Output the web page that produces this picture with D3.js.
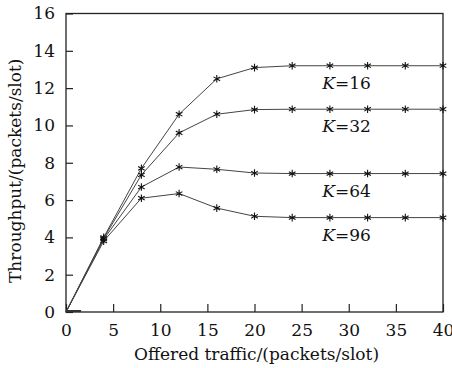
<!DOCTYPE html>
<html>
<head>
<meta charset="utf-8">
<script src="https://cdn.jsdelivr.net/npm/d3@7"></script>
<style>
  body { margin: 0; background: #fff; }
  svg text { font-family: "DejaVu Serif", serif; fill: #111; }
</style>
</head>
<body>
<svg id="chart" width="452" height="368"></svg>
<script>
// offered traffic (packets/slot)
var traffic = [0, 4, 8, 12, 16, 20, 24, 28, 32, 36, 40];
var seriesNames = ["16", "32", "64", "96"];
var k16 = [0, 4.0, 7.7, 10.6, 12.5, 13.1, 13.2, 13.2, 13.2, 13.2, 13.2];
var k32 = [0, 3.95, 7.35, 9.6, 10.6, 10.85, 10.87, 10.87, 10.87, 10.87, 10.87];
var k64 = [0, 3.9, 6.7, 7.77, 7.65, 7.45, 7.42, 7.42, 7.42, 7.42, 7.42];
var k96 = [0, 3.8, 6.1, 6.35, 5.57, 5.13, 5.06, 5.06, 5.06, 5.06, 5.06];
var xTicks = [0, 5, 10, 15, 20, 25, 30, 35, 40];
var yTicks = [0, 2, 4, 6, 8, 10, 12, 14, 16];

var series = [k16, k32, k64, k96];

var margin = {top: 13.5, right: 9, bottom: 56, left: 66};
var width = 452 - margin.left - margin.right,
    height = 368 - margin.top - margin.bottom;

var svg = d3.select("#chart");
var g = svg.append("g")
	.attr("transform", "translate(" + margin.left + "," + margin.top + ")");

var x = d3.scaleLinear().domain([0, 40]).range([0, width]);
var y = d3.scaleLinear().domain([0, 16]).range([height, 0]);

// frame
g.append("rect")
	.attr("x", 0).attr("y", 0)
	.attr("width", width).attr("height", height)
	.attr("fill", "none")
	.attr("stroke", "#222")
	.attr("stroke-width", 1.3);

var xAxis = g.append("g")
	.attr("transform", "translate(0," + height + ")")
	.call(d3.axisBottom(x).tickValues(xTicks).tickSizeInner(-8).tickSizeOuter(0).tickPadding(12));
var yAxis = g.append("g")
	.call(d3.axisLeft(y).tickValues(yTicks).tickSizeInner(-7).tickSizeOuter(0).tickPadding(11));

[xAxis, yAxis].forEach(function(a) {
	a.select(".domain").remove();
	a.selectAll(".tick line").attr("stroke", "#222").attr("stroke-width", 1.2);
	a.selectAll("text").style("font-size", "17px").attr("fill", "#111");
});

var line = d3.line()
	.x(function(d, i) { return x(traffic[i]); })
	.y(function(d) { return y(d); });

var star = "M0,-3.8V3.8M-3.3,-1.9L3.3,1.9M-3.3,1.9L3.3,-1.9";

series.forEach(function(s, k) {
	g.append("path")
		.datum(s)
		.attr("d", line)
		.attr("fill", "none")
		.attr("stroke", "#444")
		.attr("stroke-width", 1);

	g.selectAll(".m" + k)
		.data(s.slice(1))
		.enter().append("path")
		.attr("class", "m" + k)
		.attr("transform", function(d, i) { return "translate(" + x(traffic[i + 1]) + "," + y(d) + ")"; })
		.attr("d", star)
		.attr("stroke", "#111")
		.attr("stroke-width", 1.1);

	var lab = g.append("text")
		.attr("x", x(27.2))
		.attr("y", y(s[s.length - 1]) + 23)
		.style("font-size", "17px");
	lab.append("tspan").style("font-style", "italic").text("K");
	lab.append("tspan").text("=" + seriesNames[k]);
});

// short segment at origin
g.append("line")
	.attr("x1", x(0)).attr("x2", x(1.6))
	.attr("y1", y(0) - 1).attr("y2", y(0) - 1)
	.attr("stroke", "#333").attr("stroke-width", 2);

g.append("text")
	.attr("x", width / 2 + 2)
	.attr("y", height + 48)
	.attr("text-anchor", "middle")
	.style("font-size", "17px")
	.text("Offered traffic/(packets/slot)");

g.append("text")
	.attr("transform", "translate(" + (-45) + "," + (height / 2 + 8) + ") rotate(-90)")
	.attr("text-anchor", "middle")
	.style("font-size", "17px")
	.text("Throughput/(packets/slot)");
</script>
</body>
</html>
